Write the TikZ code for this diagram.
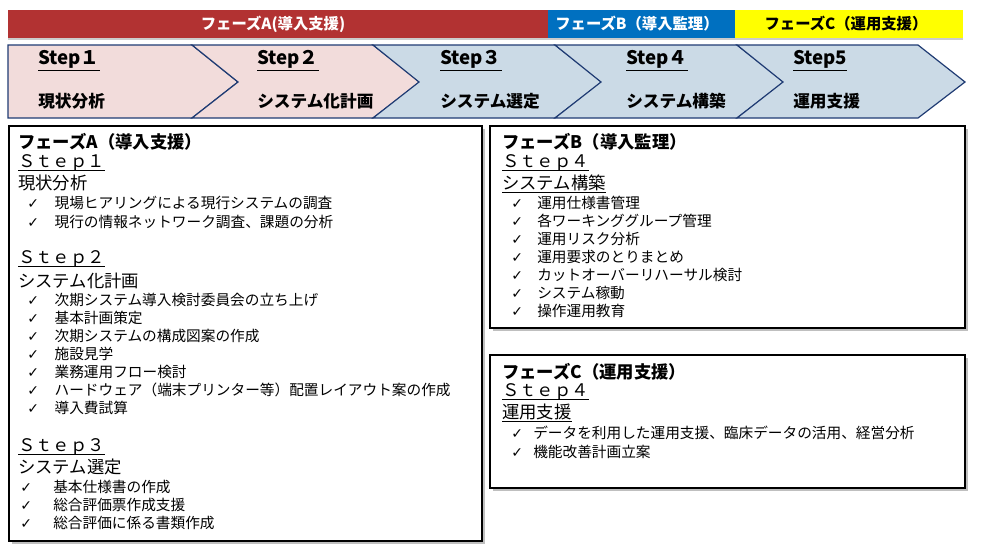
\documentclass[tikz,border=0pt]{standalone}
\usepackage{fontspec}
\setmainfont{Noto Sans CJK JP}
\newfontfamily\checkfont{DejaVu Sans}
\usetikzlibrary{shadows}
\definecolor{phaseA}{HTML}{B23232}
\definecolor{phaseB}{HTML}{0070C0}
\definecolor{phaseC}{HTML}{FFFF00}
\definecolor{pinkfill}{HTML}{F2DCDB}
\definecolor{bluefill}{HTML}{CBDAE6}
\definecolor{chevline}{HTML}{1F3B73}
\newcommand{\chk}{{\checkfont\fontsize{10.5}{12}\selectfont ✓}}
\newcommand{\ul}[1]{\underline{\raisebox{0pt}[\height][0.08em]{#1}}}

\begin{document}
\begin{tikzpicture}[x=0.75pt, y=-0.75pt,
  bartext/.style={inner sep=0pt, font=\bfseries\fontsize{11.5}{13}\selectfont},
  barshadow/.style={drop shadow={shadow xshift=0pt, shadow yshift=-1.5pt, fill=black!40, opacity=0.5}},
  chevron/.style={draw=chevline, line width=0.9pt},
  steplabel/.style={anchor=west, inner sep=0pt, font=\bfseries\fontsize{14}{16}\selectfont},
  tasklabel/.style={anchor=west, inner sep=0pt, font=\bfseries\fontsize{12.5}{14}\selectfont},
  panel/.style={draw=black, line width=0.9pt, fill=white,
    drop shadow={shadow xshift=2pt, shadow yshift=-2pt, fill=black!50, opacity=0.5}},
  phasehead/.style={anchor=west, inner sep=0pt, font=\bfseries\fontsize{13}{15}\selectfont},
  subhead/.style={anchor=west, inner sep=0pt, font=\fontsize{13}{15}\selectfont},
  item/.style={anchor=west, inner sep=0pt, font=\fontsize{11}{13}\selectfont}]
  \useasboundingbox (0,0) rectangle (990,557);
  % phase bars
  \fill[phaseA, barshadow] (8,10) rectangle (548,38);
  \fill[phaseB, barshadow] (548,10) rectangle (735,38);
  \fill[phaseC, barshadow] (735,10) rectangle (963,38);
  \node[bartext, text=white] (barA) at (273,24) {フェーズA(導入支援)};
  \node[bartext, text=white] (barB) at (637,24) {フェーズB（導入監理）};
  \node[bartext] (barC) at (846,24) {フェーズC（運用支援）};
  % step chevrons
  \draw[chevron, fill=pinkfill] (8,45) -- (192,45) -- (238,82) -- (192,118) -- (8,118) -- cycle;
  \foreach \l/\r/\col in {192/373/pinkfill, 373/555/bluefill, 555/737/bluefill, 737/918/bluefill}
    \draw[chevron, fill=\col] (\l,45) -- (\r,45) -- ({\r+47},82) -- (\r,118) -- (\l,118) -- ({\l+46},82) -- cycle;
  \foreach \x/\s/\tsk [count=\i] in {38/Step１/現状分析, 257/Step２/システム化計画,
      440/Step３/システム選定, 626/Step４/システム構築, 793/Step5/運用支援}{
    \node[steplabel] (step\i) at (\x,61) {\underline{\s}};
    \node[tasklabel] (task\i) at (\x,101) {\tsk};
  }
  % phase A panel
  \draw[panel] (9,126) rectangle (482,541);
  \node[phasehead] (headA) at (18,142) {フェーズA（導入支援）};
  \node[subhead] (stepA1) at (18,163) {\ul{Ｓｔｅｐ１}};
  \node[subhead] (taskA1) at (18,183) {現状分析};
  \foreach \txt [count=\i] in {現場ヒアリングによる現行システムの調査, 現行の情報ネットワーク調査、課題の分析}
    \node[item] (itemA1-\i) at (27,{203+18.5*(\i-1)}) {\makebox[20.5pt][l]{\chk}\txt};
  \node[subhead] (stepA2) at (18,259) {\ul{Ｓｔｅｐ２}};
  \node[subhead] (taskA2) at (18,281) {システム化計画};
  \foreach \txt [count=\i] in {次期システム導入検討委員会の立ち上げ, 基本計画策定, 次期システムの構成図案の作成,
      施設見学, 業務運用フロー検討, ハードウェア（端末プリンター等）配置レイアウト案の作成, 導入費試算}
    \node[item] (itemA2-\i) at (27,{300+18*(\i-1)}) {\makebox[20.5pt][l]{\chk}\txt};
  \node[subhead] (stepA3) at (18,447) {\ul{Ｓｔｅｐ３}};
  \node[subhead] (taskA3) at (18,467) {システム選定};
  \foreach \txt [count=\i] in {基本仕様書の作成, 総合評価票作成支援, 総合評価に係る書類作成}
    \node[item] (itemA3-\i) at (20,{487+18*(\i-1)}) {\makebox[24.75pt][l]{\chk}\txt};
  % phase B panel
  \draw[panel] (490,126) rectangle (965,328);
  \node[phasehead] (headB) at (502,142) {フェーズB（導入監理）};
  \node[subhead] (stepB) at (502,163) {\ul{Ｓｔｅｐ４}};
  \node[subhead] (taskB) at (502,184) {\ul{システム構築}};
  \foreach \txt [count=\i] in {運用仕様書管理, 各ワーキンググループ管理, 運用リスク分析, 運用要求のとりまとめ,
      カットオーバーリハーサル検討, システム稼動, 操作運用教育}
    \node[item] (itemB-\i) at (511,{203+18*(\i-1)}) {\makebox[19.5pt][l]{\chk}\txt};
  % phase C panel
  \draw[panel] (490,355) rectangle (965,488);
  \node[phasehead] (headC) at (502,372) {フェーズC（運用支援）};
  \node[subhead] (stepC) at (502,392) {\ul{Ｓｔｅｐ４}};
  \node[subhead] (taskC) at (502,413) {\ul{運用支援}};
  \foreach \txt [count=\i] in {データを利用した運用支援、臨床データの活用、経営分析, 機能改善計画立案}
    \node[item] (itemC-\i) at (511,{433+18.5*(\i-1)}) {\makebox[16.5pt][l]{\chk}\txt};
\end{tikzpicture}
\end{document}
